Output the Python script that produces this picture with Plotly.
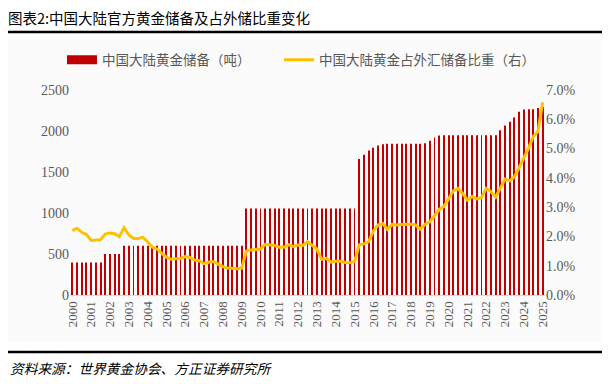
import plotly.graph_objects as go

# ---- data (quarterly, 2000Q1 .. 2025Q1) ----
years = [str(y) for y in range(2000, 2026)]

reserves_t = (
    [395] * 7 + [500] * 4 + [600] * 26 + [1054] * 24 +
    [1658, 1709, 1762, 1797, 1823, 1838] + [1843] * 8 +
    [1852, 1880, 1920, 1945] + [1948] * 12 +
    [2010, 2068, 2113, 2165, 2235, 2262, 2264, 2264, 2280, 2292]
)

share_pct = [
    2.20, 2.28, 2.14, 2.07, 1.86, 1.88, 1.89, 2.08, 2.12, 2.09,
    1.99, 2.30, 2.05, 1.93, 1.93, 1.97, 1.82, 1.63, 1.57, 1.42,
    1.29, 1.22, 1.23, 1.25, 1.31, 1.28, 1.19, 1.17, 1.07, 1.12,
    1.14, 1.06, 0.97, 0.92, 0.91, 0.90, 0.92, 1.50, 1.54, 1.55,
    1.57, 1.73, 1.70, 1.69, 1.63, 1.63, 1.72, 1.65, 1.71, 1.69,
    1.82, 1.71, 1.57, 1.22, 1.25, 1.12, 1.15, 1.15, 1.11, 1.10,
    1.14, 1.71, 1.75, 1.82, 2.18, 2.39, 2.44, 2.24, 2.41, 2.39,
    2.41, 2.42, 2.42, 2.39, 2.25, 2.42, 2.50, 2.73, 2.92, 3.02,
    3.30, 3.55, 3.64, 3.47, 3.24, 3.36, 3.28, 3.32, 3.64, 3.53,
    3.34, 3.64, 3.96, 3.90, 4.04, 4.35, 4.67, 5.01, 5.41, 5.58,
    6.58,
]

x_idx = list(range(len(reserves_t)))
tick_pos = list(range(0, len(reserves_t), 4))
share = [v / 100 for v in share_pct]

AX = "#595959"
RED = "#C00000"
GOLD = "#FFC000"
CJK = "Noto Sans CJK SC"
SERIF = "Liberation Serif, Times New Roman, serif"
LEG_FONT = dict(family=CJK, size=13.5, color=AX)
NAME_BAR = "中国大陆黄金储备（吨）"
NAME_LINE = "中国大陆黄金占外汇储备比重（右）"

fig = go.Figure()
fig.add_trace(go.Bar(
    x=x_idx, y=reserves_t, name=NAME_BAR, showlegend=False,
    marker=dict(color=RED, line=dict(width=0)), width=0.2,
))
# legend key for the bar series (wide flat red swatch, as in the source)
fig.add_trace(go.Scatter(
    x=[None], y=[None], name=NAME_BAR, legend="legend", mode="lines",
    line=dict(color=RED, width=9), hoverinfo="skip",
))
fig.add_trace(go.Scatter(
    x=x_idx, y=share, name=NAME_LINE, yaxis="y2",
    legend="legend2", mode="lines", line=dict(color=GOLD, width=3),
))

fig.update_layout(
    width=610, height=384,
    margin=dict(l=62, r=73, t=82, b=97, autoexpand=False),
    paper_bgcolor="white", plot_bgcolor="rgba(0,0,0,0)",
    showlegend=True,
    legend=dict(orientation="h", xref="container", yref="container",
                x=0.0885, xanchor="left", y=0.8646, yanchor="middle",
                font=LEG_FONT, itemwidth=30, bgcolor="rgba(0,0,0,0)"),
    legend2=dict(orientation="h", xref="container", yref="container",
                 x=0.4443, xanchor="left", y=0.8646, yanchor="middle",
                 font=LEG_FONT, itemwidth=30, bgcolor="rgba(0,0,0,0)"),
    title=dict(text="图表2:中国大陆官方黄金储备及占外储比重变化", x=0.0, xanchor="left",
               y=0.972, yanchor="middle", font=dict(family=CJK, size=14.5, color="#000000")),
    xaxis=dict(range=[-0.5, len(reserves_t) - 0.5], tickmode="array",
               tickvals=tick_pos, ticktext=years, tickangle=-90,
               tickfont=dict(family=SERIF, size=13, color=AX),
               showgrid=False, zeroline=False, showline=True, linecolor="#D9D9D9",
               ticks="", automargin=False),
    yaxis=dict(range=[0, 2500], dtick=500, showgrid=False, zeroline=False,
               tickfont=dict(family=SERIF, size=14, color=AX), ticks="", automargin=False),
    yaxis2=dict(range=[0, 0.07], dtick=0.01, tickformat=".1%", overlaying="y",
                side="right", showgrid=False, zeroline=False,
                tickfont=dict(family=SERIF, size=14, color=AX), ticks="", automargin=False),
    bargap=0.7,
    shapes=[
        dict(type="rect", xref="paper", yref="paper", x0=-0.137, x1=1.122,
             y0=-0.23, y1=1.25, fillcolor="#FBFBFB", line=dict(width=0), layer="below"),
        dict(type="line", xref="paper", yref="paper", x0=-0.1326, x1=1.122,
             y0=1.283, y1=1.283, line=dict(color="black", width=2.5)),
        dict(type="line", xref="paper", yref="paper", x0=-0.1326, x1=1.122,
             y0=-0.278, y1=-0.278, line=dict(color="black", width=2.5)),
    ],
    annotations=[
        dict(text="<i>资料来源：世界黄金协会、方正证券研究所</i>", xref="paper", yref="paper",
             x=-0.13, xanchor="left", y=-0.355, yanchor="middle", showarrow=False,
             font=dict(family=CJK, size=13.7, color="#000000")),
    ],
)

fig.write_html("out.html")
